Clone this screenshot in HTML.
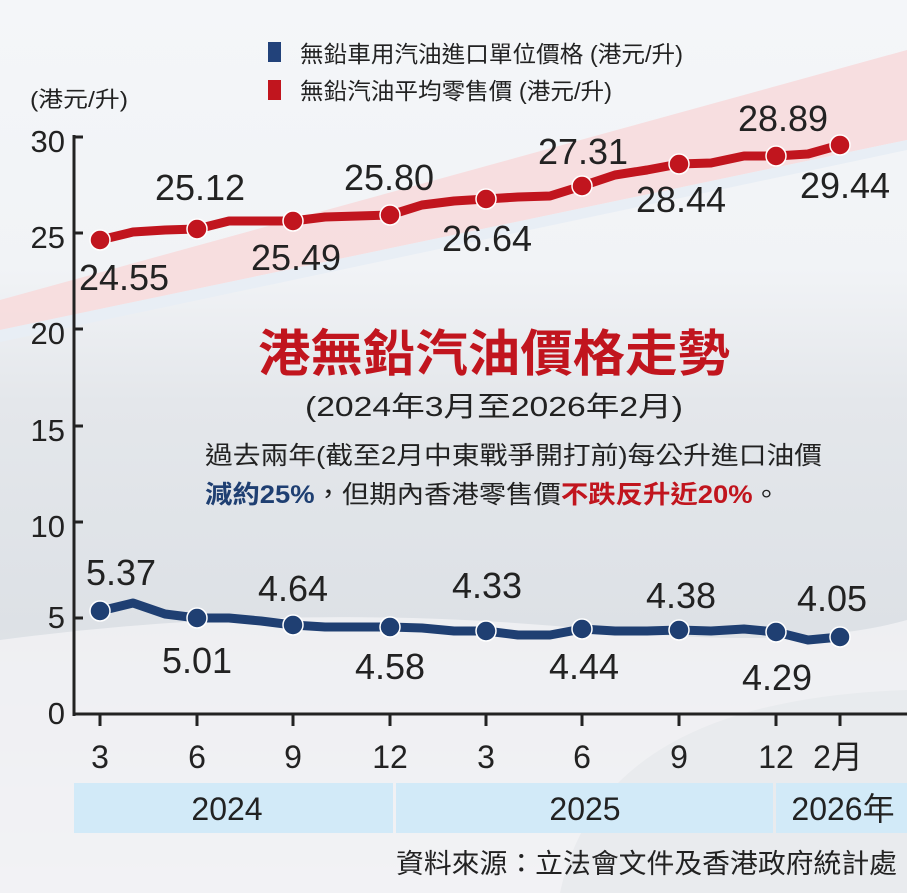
<!DOCTYPE html>
<html><head><meta charset="utf-8"><style>
html,body{margin:0;padding:0;background:#fff}
svg{display:block}
text{font-family:"Liberation Sans","Noto Sans CJK TC",sans-serif}
</style></head><body>
<svg width="907" height="893" viewBox="0 0 907 893" xmlns="http://www.w3.org/2000/svg">
<defs>
<linearGradient id="bg" x1="0" y1="0" x2="0" y2="1">
<stop offset="0" stop-color="#f4f6f9"/><stop offset="0.3" stop-color="#f1f3f6"/>
<stop offset="0.45" stop-color="#e4e7eb"/><stop offset="0.7" stop-color="#dde1e6"/>
<stop offset="0.85" stop-color="#e6e8ec"/><stop offset="1" stop-color="#eef0f3"/></linearGradient>
</defs>
<rect width="907" height="893" fill="url(#bg)"/>
<polygon points="0,300 907,50 907,140 0,330" fill="#f7dcdd" opacity="0.9"/>
<polygon points="0,330 907,140 907,150 0,342" fill="#e8eef5"/>
<path d="M0,640 Q300,600 600,630 Q800,650 907,620 L907,893 L0,893 Z" fill="#f2f3f5" opacity="0.8"/>
<path d="M560,893 Q600,700 907,690 L907,893 Z" fill="#e6e8eb" opacity="0.7"/>
<!-- legend -->
<rect x="268" y="42" width="13" height="20" fill="#22427a"/>
<text x="300" y="62" font-size="23" fill="#222" textLength="383" lengthAdjust="spacingAndGlyphs">無鉛車用汽油進口單位價格 (港元/升)</text>
<rect x="268" y="80" width="13" height="20" fill="#c1151e"/>
<text x="300" y="99" font-size="23" fill="#222" textLength="312" lengthAdjust="spacingAndGlyphs">無鉛汽油平均零售價 (港元/升)</text>
<text x="30" y="107" font-size="22" fill="#222" textLength="98" lengthAdjust="spacingAndGlyphs">(港元/升)</text>
<!-- axes -->
<g stroke="#222" stroke-width="3" fill="none">
<line x1="74" y1="135" x2="74" y2="716"/>
<line x1="73" y1="714" x2="907" y2="714"/>
<line x1="74" y1="137" x2="83" y2="137"/><line x1="74" y1="233" x2="83" y2="233"/>
<line x1="74" y1="329" x2="83" y2="329"/><line x1="74" y1="426" x2="83" y2="426"/>
<line x1="74" y1="522" x2="83" y2="522"/><line x1="74" y1="618" x2="83" y2="618"/>
<line x1="100" y1="714" x2="100" y2="726"/><line x1="197" y1="714" x2="197" y2="726"/>
<line x1="293" y1="714" x2="293" y2="726"/><line x1="390" y1="714" x2="390" y2="726"/>
<line x1="486" y1="714" x2="486" y2="726"/><line x1="582" y1="714" x2="582" y2="726"/>
<line x1="679" y1="714" x2="679" y2="726"/><line x1="776" y1="714" x2="776" y2="726"/>
<line x1="840" y1="714" x2="840" y2="726"/>
</g>
<g font-size="31" fill="#222" text-anchor="end">
<text x="65" y="152">30</text><text x="65" y="248">25</text><text x="65" y="344">20</text>
<text x="65" y="441">15</text><text x="65" y="537">10</text><text x="65" y="628">5</text><text x="65" y="724">0</text>
</g>
<g font-size="32" fill="#222" text-anchor="middle">
<text x="100" y="768">3</text><text x="197" y="768">6</text><text x="293" y="768">9</text><text x="390" y="768">12</text>
<text x="486" y="768">3</text><text x="582" y="768">6</text><text x="679" y="768">9</text><text x="776" y="768">12</text>
<text x="838" y="768">2月</text>
</g>
<!-- year band -->
<rect x="74" y="783" width="319" height="50" fill="#d2eaf8"/>
<rect x="396" y="783" width="377" height="50" fill="#d2eaf8"/>
<rect x="776" y="783" width="131" height="50" fill="#d2eaf8"/>
<g font-size="32" fill="#222" text-anchor="middle">
<text x="227" y="820">2024</text><text x="585" y="820">2025</text><text x="843" y="820">2026年</text>
</g>
<text x="396" y="873" font-size="27" fill="#222" textLength="501" lengthAdjust="spacingAndGlyphs">資料來源：立法會文件及香港政府統計處</text>
<!-- red series -->
<polyline fill="none" stroke="#c1151e" stroke-width="9" stroke-linejoin="round" points="100,240 133,232 165,230 197,229 229,221 261,221 293,221 325,217 358,216 390,215 422,205 454,201 486,199 518,197 550,196 582,186 615,175 647,170 679,164 711,163 744,156 776,156 808,154 840,145"/>
<g fill="#c1151e" stroke="#fff" stroke-width="1.5">
<circle cx="100" cy="240" r="10"/><circle cx="197" cy="229" r="10"/><circle cx="293" cy="221" r="10"/>
<circle cx="390" cy="215" r="10"/><circle cx="486" cy="199" r="10"/><circle cx="582" cy="186" r="10"/>
<circle cx="679" cy="164" r="10"/><circle cx="776" cy="156" r="10"/><circle cx="840" cy="145" r="10"/>
</g>
<!-- blue series -->
<polyline fill="none" stroke="#1f3f72" stroke-width="9" stroke-linejoin="round" points="100,611 133,603 165,614 197,618 229,618 261,621 293,625 325,627 358,627 390,627 422,628 454,631 486,631 518,635 550,635 582,629 615,631 647,631 679,630 711,631 744,629 776,632 808,640 840,637"/>
<g fill="#1f3f72" stroke="#fff" stroke-width="1.5">
<circle cx="100" cy="611" r="10"/><circle cx="197" cy="618" r="10"/><circle cx="293" cy="625" r="10"/>
<circle cx="390" cy="627" r="10"/><circle cx="486" cy="631" r="10"/><circle cx="582" cy="629" r="10"/>
<circle cx="679" cy="630" r="10"/><circle cx="776" cy="632" r="10"/><circle cx="840" cy="637" r="10"/>
</g>
<!-- value labels -->
<g font-size="36" fill="#222" text-anchor="middle">
<text x="124" y="290">24.55</text><text x="200" y="200">25.12</text><text x="296" y="270">25.49</text>
<text x="389" y="190">25.80</text><text x="487" y="251">26.64</text><text x="583" y="164">27.31</text>
<text x="681" y="212">28.44</text><text x="783" y="131">28.89</text><text x="845" y="198">29.44</text>
<text x="121" y="585">5.37</text><text x="197" y="673">5.01</text><text x="293" y="601">4.64</text>
<text x="390" y="679">4.58</text><text x="487" y="598">4.33</text><text x="584" y="679">4.44</text>
<text x="681" y="608">4.38</text><text x="777" y="690">4.29</text><text x="832" y="611">4.05</text>
</g>
<!-- title block -->
<text x="258" y="371" font-size="50" font-weight="bold" fill="#c1151e" textLength="472" lengthAdjust="spacingAndGlyphs">港無鉛汽油價格走勢</text>
<text x="305" y="416" font-size="28" fill="#222" textLength="378" lengthAdjust="spacingAndGlyphs">(2024年3月至2026年2月)</text>
<text x="205" y="464" font-size="25" fill="#222" textLength="617" lengthAdjust="spacingAndGlyphs">過去兩年(截至2月中東戰爭開打前)每公升進口油價</text>
<text x="205" y="503" font-size="25" fill="#222" textLength="575" lengthAdjust="spacingAndGlyphs"><tspan fill="#1f3f72" font-weight="bold">減約25%</tspan>，但期內香港零售價<tspan fill="#c1151e" font-weight="bold">不跌反升近20%</tspan>。</text>
</svg>
</body></html>
